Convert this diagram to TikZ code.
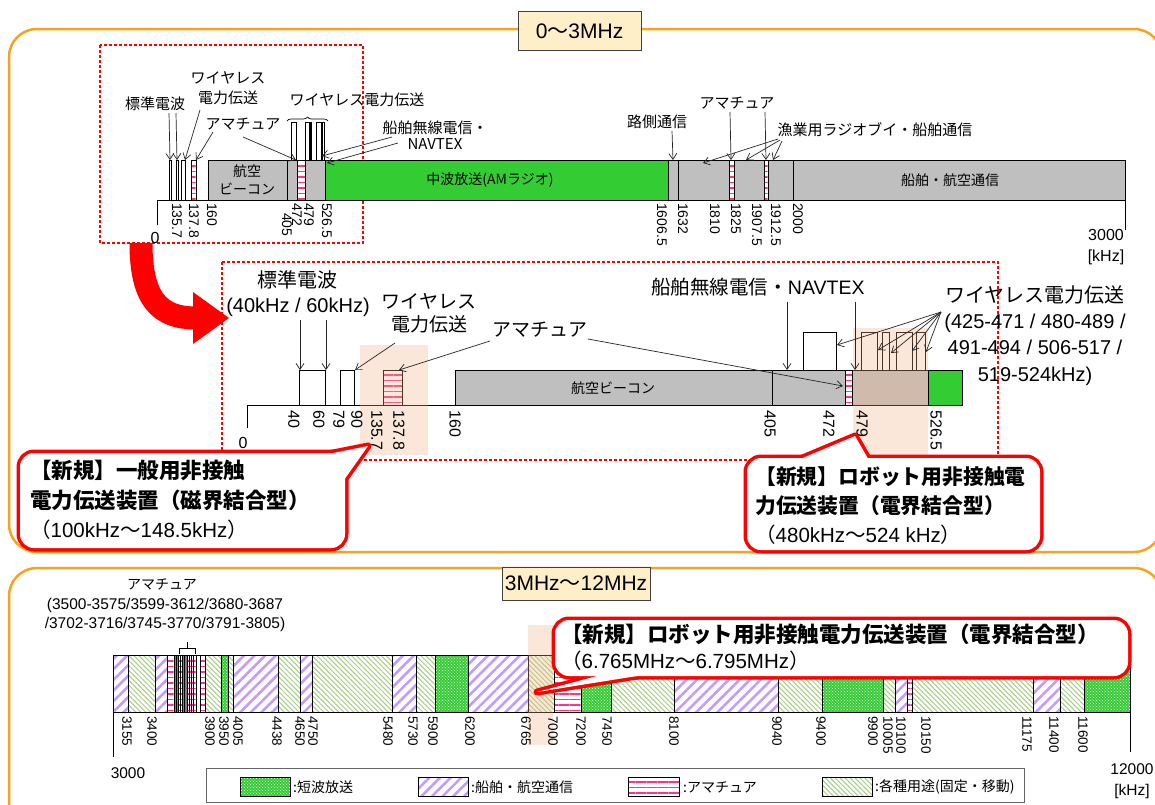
\documentclass[tikz,border=0pt]{standalone}
\usepackage{fontspec}
\setmainfont{Liberation Sans}
\newfontfamily\jp{Noto Sans CJK JP}
\usetikzlibrary{arrows.meta,patterns,patterns.meta,decorations.pathreplacing}
\definecolor{orangeC}{HTML}{F7A31C}
\definecolor{creamC}{HTML}{FFEFC8}
\definecolor{grayC}{HTML}{BFBFBF}
\definecolor{greenC}{HTML}{33CC33}
\definecolor{pinkC}{HTML}{FF3388}
\definecolor{peachC}{HTML}{F4B183}
\definecolor{purpleC}{HTML}{C49BFF}
\definecolor{lgreenC}{HTML}{A3CF80}
\definecolor{redC}{HTML}{FF0000}
\newcommand{\fs}[2]{\fontsize{#1}{#2}\selectfont}
\newcommand{\bubble}[2]{%
  \draw[redC, line width=7pt, line join=round] #1;
  \draw[redC, line width=7pt, rounded corners=14pt] #2;
  \fill[white] #1;
  \fill[white, rounded corners=14pt] #2;}
\begin{document}
\begin{tikzpicture}[x=1pt,y=-1pt]
\tikzset{
 seg/.style={draw=black, line width=0.8pt},
 gbar/.style={seg, fill=grayC},
 wbar/.style={seg, fill=white},
 gnbar/.style={seg, fill=greenC},
 ambar/.style={seg, preaction={fill=white}, pattern={Lines[angle=0,distance=5.5pt,line width=1.5pt]}, pattern color=pinkC},
 shipbar/.style={seg, preaction={fill=white}, pattern={Lines[angle=45,distance=7.5pt,line width=2.6pt]}, pattern color=purpleC},
 varbar/.style={seg, preaction={fill=white}, pattern={Lines[angle=-45,distance=3.5pt,line width=1pt]}, pattern color=lgreenC},
 swbar/.style={seg, preaction={fill=greenC}, pattern=crosshatch dots, pattern color=white},
 peach/.style={fill=peachC, fill opacity=0.3},
 arr/.style={draw=black!85, line width=0.7pt, -{Straight Barb[length=6pt,width=8pt]}},
 dashbox/.style={draw=redC, line width=1.1pt, dash pattern=on 3pt off 2pt},
 tkA/.style={rotate=-90, anchor=west, inner sep=0pt, font=\fs{14}{14}},
 tkB/.style={rotate=-90, anchor=west, inner sep=0pt, font=\fs{16}{16}},
 tkC/.style={rotate=-90, anchor=west, inner sep=0pt, font=\fs{13.5}{13.5}},
 jA/.style={inner sep=0pt, align=center, font=\jp\fs{15}{20}},
 jS/.style={inner sep=0pt, align=center, font=\jp\fs{14}{18}},
 jB/.style={inner sep=0pt, align=center, font=\jp\fs{19}{23}},
 num/.style={inner sep=0pt, align=center, font=\fs{16}{21}},
 titlebox/.style={draw=black!75, line width=0.9pt, fill=creamC, inner sep=0pt, font=\fs{21}{24}},
 cotext/.style={anchor=west, inner sep=0pt, font=\bfseries\jp\fs{21.5}{24}},
 cotextn/.style={anchor=west, inner sep=0pt, font=\fs{20.5}{24}},
 legtext/.style={anchor=west, inner sep=0pt, font=\jp\fs{14}{16}},
}
\useasboundingbox (0,0) rectangle (1155,804);
\clip (0,0) rectangle (1155,804);
\fill[white] (0,0) rectangle (1155,804);

% ---------- frames ----------
\draw[orangeC, line width=2.5pt, rounded corners=28pt] (9,29) rectangle (1162,552);
\draw[orangeC, line width=2.5pt, rounded corners=28pt] (9,568) rectangle (1162,850);
\node[titlebox, minimum width=123, minimum height=39] (title1) at (579.5,31) {0{\jp ～}3MHz};
\node[titlebox, minimum width=148, minimum height=33] (title2) at (576,583.5) {3MHz{\jp ～}12MHz};

% ---------- top band 0-3000 kHz ----------
\draw[dashbox] (100,45) rectangle (363,243);
\draw[line width=0.8pt] (157,225) -- (157,200) -- (1125,200) -- (1125,230);
\draw[wbar] (169,160) rectangle (171.5,200);
\draw[wbar] (176,160) rectangle (178.5,200);
\draw[wbar] (181,160) rectangle (185,200);
\draw[ambar] (191,160) rectangle (196,200);
\draw[gbar] (208,160) rectangle (287,200);
\draw[gbar] (287,160) rectangle (297,200);
\draw[ambar] (297,160) rectangle (305,200);
\draw[gbar] (305,160) rectangle (325,200);
\draw[gnbar] (325,160) rectangle (668,200);
\draw[gbar] (668,160) rectangle (678,200);
\draw[gbar] (678,160) rectangle (793,200);
\draw[ambar] (729,160) rectangle (734,200);
\draw[ambar] (764,160) rectangle (768,200);
\draw[gbar] (793,160) rectangle (1125,200);
\draw[wbar] (291,122) rectangle (296,160);
\draw[wbar] (305.4,122) rectangle (309.2,160);
\draw[wbar] (310,122) rectangle (311.3,160);
\draw[wbar] (316.4,122) rectangle (321,160);
\draw[wbar] (321.9,122) rectangle (324,160);
\draw[line width=0.7pt, decorate, decoration={brace, amplitude=4pt}] (287,121) -- (328,121);

\node[jS] (beaconA) at (247,180) {航空\\ビーコン};
\node[jS] (amradio) at (490,180) {中波放送(AMラジオ)};
\node[jS] (shipair) at (950,180) {船舶・航空通信};

\node[jA] (stdA) at (155,104) {標準電波};
\node[jA] (wpA) at (228,88) {ワイヤレス\\電力伝送};
\node[jA] (amA) at (243,124) {アマチュア};
\node[jA] (wpB) at (357,100) {ワイヤレス電力伝送};
\node[inner sep=0pt, align=center, font=\jp\fs{15}{16}] (navA) at (435,135) {船舶無線電信・\\NAVTEX};
\node[jA] (rodA) at (657,122) {路側通信};
\node[jA] (amB) at (737,103) {アマチュア};
\node[jA] (fishA) at (875,130) {漁業用ラジオブイ・船舶通信};

\coordinate (a1s) at (169,113); \coordinate (a1e) at (170,160);
\coordinate (a2s) at (176,113); \coordinate (a2e) at (177,160);
\coordinate (a3s) at (200,110); \coordinate (a3e) at (185,160);
\coordinate (a4s) at (213,132); \coordinate (a4e) at (196,160);
\coordinate (a5s) at (243,137); \coordinate (a5e) at (296,160);
\coordinate (a6s) at (392,137); \coordinate (a6e) at (322,156);
\coordinate (a7s) at (398,143); \coordinate (a7e) at (327,163);
\coordinate (a8s) at (672,131); \coordinate (a8e) at (673,160);
\coordinate (a9s) at (730,112); \coordinate (a9e) at (731,160);
\coordinate (a10s) at (765,112); \coordinate (a10e) at (766,160);
\coordinate (a11s) at (778,139); \coordinate (a11e) at (703,163);
\coordinate (a12s) at (780,140); \coordinate (a12e) at (746,160);
\coordinate (a13s) at (782,141); \coordinate (a13e) at (773,160);
\foreach \i in {1,...,13} \draw[arr] (a\i s) -- (a\i e);

\foreach \x/\y/\t [count=\i] in {177/203/135.7,194/203/137.8,212/203/160,287/213/405,297/203/472,309/203/479,327/203/526.5,662/203/1606.5,683/203/1632,715/203/1810,736/203/1825,757/203/1907.5,776/203/1912.5,798/203/2000}
  \node[tkA, name=ta\i] at (\x,\y) {\t};
\node[num] (zeroA) at (155,238) {0};
\node[num] (endA) at (1106,247) {3000\\{[}kHz{]}};

% ---------- big red arrow ----------
\draw[redC, line width=23pt] (141,243) .. controls (141,300) and (160,318) .. (196,318);
\fill[redC] (193,292) -- (229,318) -- (193,344) -- cycle;

% ---------- middle band 0-526.5 kHz ----------
\draw[dashbox] (222,262) rectangle (998,460);
\draw[line width=0.8pt] (247,428) -- (247,405) -- (962,405);
\draw[wbar] (299,370) rectangle (325,405);
\draw[wbar] (340,370) rectangle (354,405);
\draw[ambar] (383,370) rectangle (402,405);
\draw[gbar] (455,370) rectangle (772,405);
\draw[gbar] (772,370) rectangle (845,405);
\draw[ambar] (845,370) rectangle (852,405);
\draw[gbar] (852,370) rectangle (928,405);
\draw[gnbar] (928,370) rectangle (962,405);
\draw[wbar] (803,332) rectangle (836,370);
\draw[wbar] (861,332) rectangle (877,370);
\draw[wbar] (882,332) rectangle (889,370);
\draw[wbar] (896,332) rectangle (912,370);
\draw[wbar] (916,332) rectangle (925,370);
\fill[peach] (360,345) rectangle (428,455);
\fill[peach] (853,328) rectangle (928,462);

\node[inner sep=0pt, font=\jp\fs{14}{16}] (beaconB) at (613,388) {航空ビーコン};
\node[inner sep=0pt, font=\jp\fs{20}{24}] (stdB) at (297,280) {標準電波};
\node[inner sep=0pt, font=\fs{20}{24}] (stdB2) at (298,307) {(40kHz / 60kHz)};
\node[jB] (wpC) at (429,313) {ワイヤレス\\電力伝送};
\node[jB] (amC) at (540,330) {アマチュア};
\node[inner sep=0pt, font=\jp\fs{19.5}{24}] (navB) at (758,287) {船舶無線電信・{\rmfamily NAVTEX}};
\node[inner sep=0pt, align=center, font=\fs{20}{26.3}] (wpD) at (1035,335.5) {{\jp ワイヤレス電力伝送}\\(425-471 / 480-489 /\\491-494 / 506-517 /\\519-524kHz)};

\coordinate (b1s) at (300,320); \coordinate (b1e) at (300,370);
\coordinate (b2s) at (326,320); \coordinate (b2e) at (326,370);
\coordinate (b3s) at (395,343); \coordinate (b3e) at (355,370);
\coordinate (b4s) at (490,341); \coordinate (b4e) at (399,370);
\coordinate (b5s) at (588,339); \coordinate (b5e) at (843,386);
\coordinate (b6s) at (787,302); \coordinate (b6e) at (787,370);
\coordinate (b7s) at (855,302); \coordinate (b7e) at (855,370);
\coordinate (b8s) at (941,312); \coordinate (b8e) at (837,345);
\coordinate (b9s) at (941,312); \coordinate (b9e) at (878,350);
\coordinate (b10s) at (941,312); \coordinate (b10e) at (891,353);
\coordinate (b11s) at (941,312); \coordinate (b11e) at (912,351);
\coordinate (b12s) at (941,312); \coordinate (b12e) at (926,352);
\foreach \i in {1,...,12} \draw[arr] (b\i s) -- (b\i e);

\foreach \x/\t [count=\i] in {294/40,319/60,339/79,357/90,377/135.7,399/137.8,455/160,770/405,829/472,862/479,936/526.5}
  \node[tkB, name=tb\i] at (\x,410) {\t};
\node[num] (zeroB) at (243,443) {0};

% ---------- callouts top ----------
\bubble{(318,456) -- (368,446) -- (344,480) -- cycle}{(20,453) rectangle (345,548)}
\node[cotext] (c1a) at (30,470) {【新規】一般用非接触};
\node[cotext] (c1b) at (30,500) {電力伝送装置（磁界結合型）};
\node[cotextn] (c1c) at (30,530) {{\jp （}100kHz{\jp ～}148.5kHz{\jp ）}};

\bubble{(793,462) -- (855,436) -- (870,462) -- cycle}{(747,458) rectangle (1040,550)}
\node[cotext, font=\bfseries\jp\fs{20.8}{24}] (c2a) at (755,477) {【新規】ロボット用非接触電};
\node[cotext, font=\bfseries\jp\fs{20.8}{24}] (c2b) at (755,506) {力伝送装置（電界結合型）};
\node[cotextn] (c2c) at (755,535) {{\jp （}480kHz{\jp ～}524 kHz{\jp ）}};

% ---------- bottom band 3-12 MHz ----------
\draw[line width=0.8pt] (113,757) -- (113,712) -- (1130,712) -- (1130,752);
\foreach \a/\b/\s in {113/128/shipbar,128/155/varbar,155/167/shipbar,205/221/varbar,221/228/swbar,228/233/varbar,233/278/shipbar,278/300/varbar,300/312/shipbar,312/392/varbar,392/416/shipbar,416/435/varbar,435/468/swbar,468/528/shipbar,528/554/varbar,554/581/ambar,581/611/swbar,611/674/varbar,674/778/shipbar,778/822/varbar,822/883/swbar,883/895/varbar,895/907/shipbar,907/912/ambar,912/1033/varbar,1033/1060/shipbar,1060/1084/varbar,1084/1130/swbar}
  \draw[\s] (\a,655) rectangle (\b,712);
\draw[ambar] (167,655) rectangle (205,712);
\fill[black!50] (175,655) rectangle (178,712);
\fill[black!50] (182,655) rectangle (187,712);
\draw[wbar] (196,655) rectangle (200,712);
\foreach \x in {174,176,178,180,182,184,187,189,191,193,196,200}
  \draw[line width=0.8pt] (\x,655) -- (\x,712);
\draw[line width=0.8pt] (167,655) rectangle (205,712);
\draw[line width=0.8pt] (179,654) -- (179,648) -- (195,648) -- (195,654) (187,648) -- (187,642);
\fill[peach] (528,625) rectangle (553,745);

\node[inner sep=0pt, font=\jp\fs{14}{16}] (amD) at (162,584) {アマチュア};
\node[inner sep=0pt, align=center, font=\fs{15.5}{18.5}] (amD2) at (165,615) {(3500-3575/3599-3612/3680-3687\\/3702-3716/3745-3770/3791-3805)};

\foreach \x/\t [count=\i] in {127/3155,152/3400,210/3900,224/3950,238/4005,277/4438,300/4650,313/4750,388/5480,413/5730,433/5900,470/6200,526/6765,553/7000,581/7200,607/7450,674/8100,777/9040,821/9400,873/9900,888/10005,901/10100,926/10150,1027/11175,1054/11400,1083/11600}
  \node[tkC, name=tc\i] at (\x,716) {\t};
\node[inner sep=0pt, font=\fs{15.5}{18}] (startC) at (128,773) {3000};
\node[inner sep=0pt, align=center, font=\fs{15.5}{21}] (endC) at (1132,781) {12000\\{[}kHz{]}};

\bubble{(612,672) -- (537,692) -- (662,672) -- cycle}{(555,620) rectangle (1128,676)}
\node[cotext] (c3a) at (561,634) {【新規】ロボット用非接触電力伝送装置（電界結合型）};
\node[cotextn] (c3b) at (561,661) {{\jp （}6.765MHz{\jp ～}6.795MHz{\jp ）}};

% ---------- legend ----------
\draw[black!60, line width=0.8pt] (206,768) rectangle (1024,802);
\draw[swbar] (240,777) rectangle (290,796);
\node[legtext] (l1) at (293,787) {:短波放送};
\draw[shipbar] (418,777) rectangle (468,796);
\node[legtext] (l2) at (471,787) {:船舶・航空通信};
\draw[ambar] (628,777) rectangle (679,796);
\node[legtext] (l3) at (683,787) {:アマチュア};
\draw[varbar] (822,777) rectangle (872,796);
\node[legtext] (l4) at (875,787) {:各種用途(固定・移動)};
\end{tikzpicture}
\end{document}
